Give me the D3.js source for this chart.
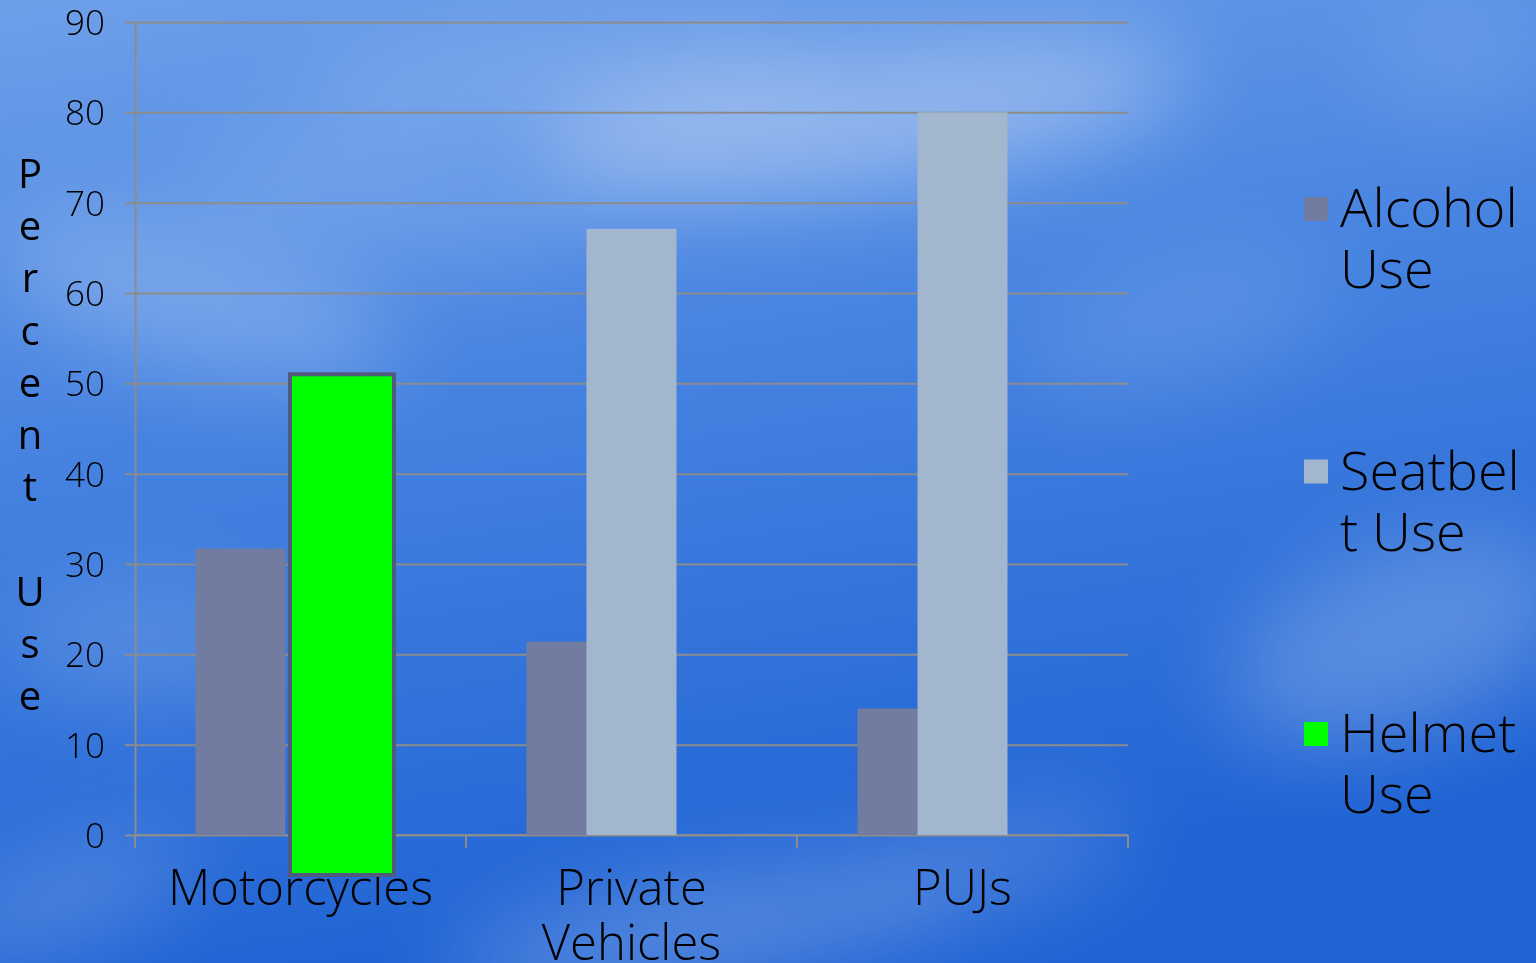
<!DOCTYPE html>
<html lang="en">
<head>
  <meta charset="UTF-8">
  <title>Percent Use by Vehicle Type</title>
  <style>
    html, body { margin: 0; padding: 0; overflow: hidden; }
    body { width: 1536px; height: 963px; font-family: "Open Sans", "Noto Sans", Arial, sans-serif; }
  </style>
  <script src="https://d3js.org/d3.v7.min.js"></script>
</head>
<body>
  <div id="chart"></div>

  <script>
    const categories = ["Motorcycles", "Private Vehicles", "PUJs"];
    const categoryLines = [["Motorcycles"], ["Private", "Vehicles"], ["PUJs"]];
    const series = ["Alcohol Use", "Seatbelt Use", "Helmet Use"];
    const legendLines = [["Alcohol", "Use"], ["Seatbel", "t Use"], ["Helmet", "Use"]];
    const alcoholUse = [31.7, 21.4, 14];
    const seatbeltUse = [0, 67.1, 80];
    const helmetUse = [51, 0, 0];
    const yTicks = [0, 10, 20, 30, 40, 50, 60, 70, 80, 90];
    const yTitle = "Percent Use";

    const width = 1536, height = 963;
    const margin = { left: 135, right: 408, top: 22, bottom: 128 };
    const font = "'Open Sans', 'Noto Sans', sans-serif";

    const colors = ["#727ca0", "#a2b6cd", "#00ff00"];
    const values = [alcoholUse, seatbeltUse, helmetUse];

    const svg = d3.create("svg")
        .attr("width", width)
        .attr("height", height)
        .attr("viewBox", [0, 0, width, height]);

    // background: sky gradient with soft clouds
    const defs = svg.append("defs");
    const sky = defs.append("linearGradient")
        .attr("id", "sky")
        .attr("x1", 0).attr("y1", 0).attr("x2", 0.25).attr("y2", 1);
    sky.append("stop").attr("offset", 0).attr("stop-color", "#6e9fe9");
    sky.append("stop").attr("offset", 0.45).attr("stop-color", "#4683e1");
    sky.append("stop").attr("offset", 1).attr("stop-color", "#2064d4");

    defs.append("filter").attr("id", "blur")
        .attr("x", "-50%").attr("y", "-50%").attr("width", "200%").attr("height", "200%")
      .append("feGaussianBlur").attr("stdDeviation", 45);

    svg.append("rect").attr("width", width).attr("height", height).attr("fill", "url(#sky)");

    const clouds = [
      [860, 120, 330, 70, -8, 0.35],
      [560, 80, 260, 50, -5, 0.18],
      [200, 300, 200, 70, 15, 0.22],
      [380, 200, 200, 50, 10, 0.15],
      [1180, 320, 160, 60, -15, 0.12],
      [1400, 640, 180, 90, -20, 0.22],
      [150, 640, 140, 60, 0, 0.15],
      [700, 930, 260, 50, -10, 0.25],
      [1000, 860, 130, 40, -15, 0.2],
      [60, 900, 140, 40, -20, 0.2],
      [1460, 60, 100, 60, 0, 0.1]
    ];
    svg.append("g")
        .attr("filter", "url(#blur)")
      .selectAll("ellipse")
      .data(clouds)
      .join("ellipse")
        .attr("transform", d => `translate(${d[0]},${d[1]}) rotate(${d[4]})`)
        .attr("rx", d => d[2])
        .attr("ry", d => d[3])
        .attr("fill", "#ffffff")
        .attr("fill-opacity", d => d[5]);

    const x = d3.scaleBand()
        .domain(categories)
        .range([margin.left, width - margin.right]);

    const barW = 90;
    const sub = d3.scaleBand()
        .domain(series)
        .range([0, 180])
        .padding(0);
    const subOffset = (x.bandwidth() - (sub.step() * 2 + barW)) / 2;

    const y = d3.scaleLinear()
        .domain([0, 90])
        .range([height - margin.bottom, margin.top]);

    const gridColor = "#8c8c8c";

    // gridlines
    svg.append("g")
        .attr("transform", `translate(${margin.left},0)`)
        .call(d3.axisLeft(y).tickValues(yTicks).tickSize(-(width - margin.right - margin.left)).tickFormat(""))
        .call(g => g.select(".domain").remove())
        .call(g => g.selectAll("line").attr("stroke", gridColor).attr("stroke-width", 2));

    // left axis
    svg.append("g")
        .attr("transform", `translate(${margin.left},0)`)
        .call(d3.axisLeft(y).tickValues(yTicks).tickSize(10).tickSizeOuter(0).tickPadding(20))
        .call(g => g.select(".domain").attr("stroke", gridColor).attr("stroke-width", 2))
        .call(g => g.selectAll("line").attr("stroke", gridColor).attr("stroke-width", 2))
        .call(g => g.selectAll("text")
            .attr("font-family", font)
            .attr("font-weight", 300)
            .attr("font-size", 35)
            .attr("fill", "#000")
            .attr("dy", "0.36em"));

    // bottom axis line and band ticks
    const bandEdges = categories.map(c => x(c)).concat([x.range()[1]]);
    const bottom = svg.append("g");
    bottom.append("line")
        .attr("x1", x.range()[0]).attr("x2", x.range()[1])
        .attr("y1", y(0)).attr("y2", y(0))
        .attr("stroke", gridColor).attr("stroke-width", 2);
    bottom.selectAll(".tick")
      .data(bandEdges)
      .join("line")
        .attr("x1", d => d).attr("x2", d => d)
        .attr("y1", y(0)).attr("y2", y(0) + 13)
        .attr("stroke", gridColor).attr("stroke-width", 2);

    // bars (alcohol then seatbelt, seatbelt overlapping)
    const bars = svg.append("g");
    [0, 1].forEach(s => {
      bars.append("g")
        .selectAll("rect")
        .data(values[s].map((v, i) => ({ cat: categories[i], v })).filter(d => d.v > 0))
        .join("rect")
          .attr("x", d => x(d.cat) + subOffset + sub(series[s]))
          .attr("y", d => y(d.v))
          .attr("width", barW)
          .attr("height", d => y(0) - y(d.v))
          .attr("fill", colors[s]);
    });

    // category labels
    svg.append("g")
        .attr("font-family", font)
        .attr("font-weight", 300)
        .attr("font-size", 49)
        .attr("text-anchor", "middle")
      .selectAll("text")
      .data(categories)
      .join("text")
        .attr("x", d => x(d) + x.bandwidth() / 2)
        .attr("y", y(0) + 70)
        .selectAll("tspan")
        .data((d, i) => categoryLines[i])
        .join("tspan")
          .attr("x", function () { return this.parentNode.getAttribute("x"); })
          .attr("dy", (d, i) => i === 0 ? 0 : 55)
          .text(d => d);

    // highlighted helmet bar (outlined, drawn over the labels)
    svg.append("g")
      .selectAll("rect")
      .data(helmetUse.map((v, i) => ({ cat: categories[i], v })).filter(d => d.v > 0))
      .join("rect")
        .attr("x", d => x(d.cat) + subOffset + sub(series[0]) + barW + 4.5)
        .attr("y", d => y(d.v))
        .attr("width", 104)
        .attr("height", d => y(0) + 40 - y(d.v))
        .attr("fill", colors[2])
        .attr("stroke", "#4f5a7c")
        .attr("stroke-width", 4);

    // y axis title, letters stacked vertically
    svg.append("g")
        .attr("font-family", font)
        .attr("font-size", 40)
        .attr("font-weight", 500)
        .attr("text-anchor", "middle")
      .selectAll("text")
      .data(yTitle.split(""))
      .join("text")
        .attr("x", 30)
        .attr("y", (d, i) => 188 + i * 52.2)
        .text(d => d);

    // legend
    const legend = svg.append("g")
        .attr("font-family", font)
        .attr("font-weight", 300)
        .attr("font-size", 54);
    const legendY = d3.scalePoint().domain(series).range([227, 752]);
    const item = legend.selectAll("g")
      .data(series)
      .join("g")
        .attr("transform", d => `translate(1304,${legendY(d)})`);
    item.append("rect")
        .attr("y", -30)
        .attr("width", 24)
        .attr("height", 24)
        .attr("fill", (d, i) => colors[i]);
    item.append("text")
        .attr("x", 36)
        .selectAll("tspan")
        .data((d, i) => legendLines[i])
        .join("tspan")
          .attr("x", 36)
          .attr("dy", (d, i) => i === 0 ? 0 : 61)
          .text(d => d);

    document.getElementById("chart").appendChild(svg.node());
  </script>
</body>
</html>
